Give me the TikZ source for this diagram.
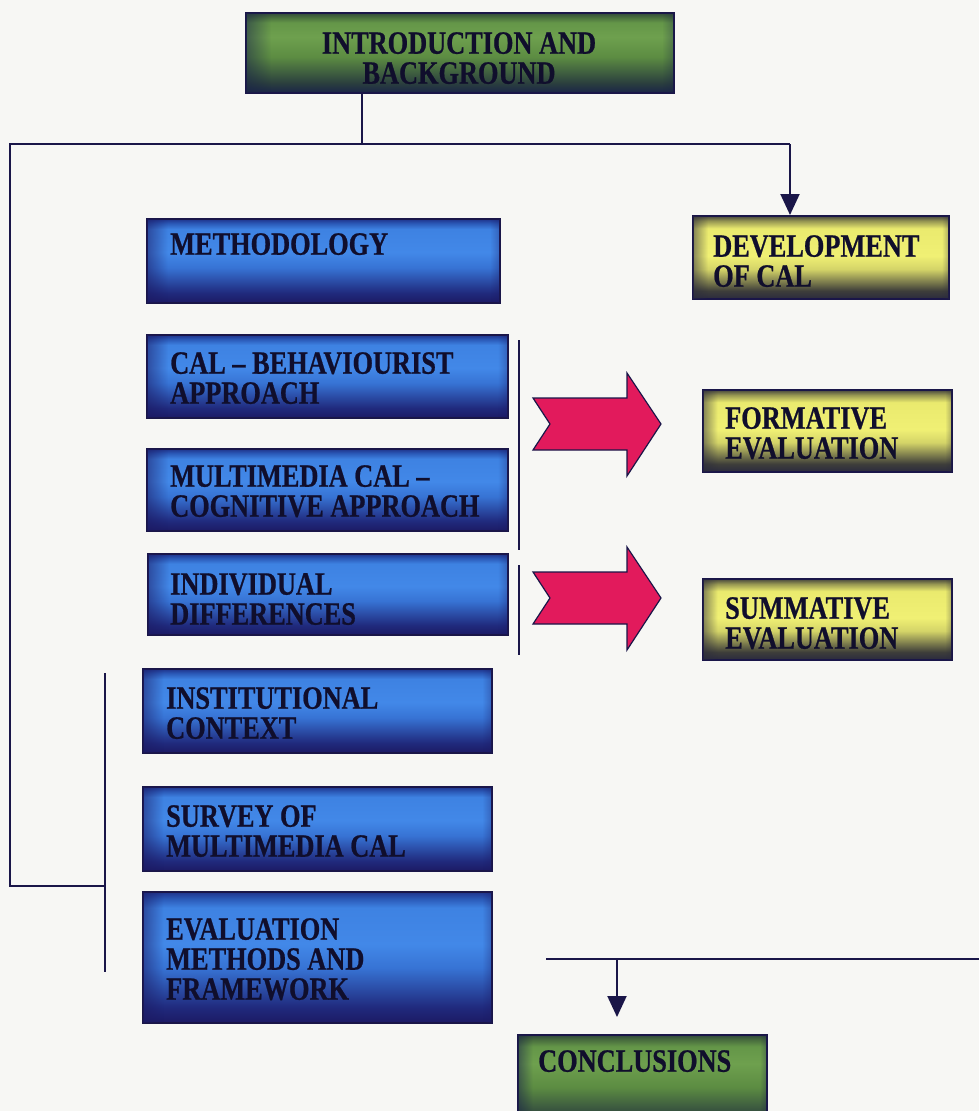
\documentclass[tikz,border=0pt]{standalone}
\usepackage{fontspec}
\setmainfont{Liberation Serif}[FakeStretch=0.81, BoldFeatures={FakeBold=0.7}]
\usetikzlibrary{arrows.meta,fadings,calc}

\definecolor{paper}{RGB}{247,247,244}
\definecolor{ink}{RGB}{26,22,72}
\definecolor{txt}{RGB}{16,14,44}
\definecolor{pink}{RGB}{226,26,92}
% blue boxes
\definecolor{bA}{RGB}{28,26,100}
\definecolor{bB}{RGB}{32,42,125}
\definecolor{bC}{RGB}{55,115,212}
\definecolor{bD}{RGB}{66,136,232}
\definecolor{bE}{RGB}{62,130,226}
\definecolor{bF}{RGB}{42,88,182}
\definecolor{bG}{RGB}{32,52,140}
% yellow boxes
\definecolor{yA}{RGB}{42,42,62}
\definecolor{yB}{RGB}{62,62,58}
\definecolor{yC}{RGB}{212,212,104}
\definecolor{yD}{RGB}{240,240,116}
\definecolor{yE}{RGB}{234,234,110}
\definecolor{yF}{RGB}{150,150,82}
\definecolor{yG}{RGB}{72,72,62}
% green boxes
\definecolor{gA}{RGB}{26,36,72}
\definecolor{gB}{RGB}{42,62,62}
\definecolor{gC}{RGB}{92,140,66}
\definecolor{gD}{RGB}{110,160,78}
\definecolor{gE}{RGB}{100,150,72}
\definecolor{gF}{RGB}{68,102,60}
\definecolor{gG}{RGB}{50,74,60}

% TikZ maps the band 25bp..75bp of a shading onto the filled box
\pgfdeclareverticalshading{blueshade}{100bp}{color(0bp)=(bA); color(25bp)=(bA); color(31bp)=(bB); color(46bp)=(bC); color(55bp)=(bD); color(69bp)=(bE); color(72.5bp)=(bF); color(75bp)=(bG); color(100bp)=(bG)}
\pgfdeclareverticalshading{yellowshade}{100bp}{color(0bp)=(yA); color(25bp)=(yA); color(30bp)=(yB); color(43bp)=(yC); color(51bp)=(yD); color(67.5bp)=(yE); color(72bp)=(yF); color(75bp)=(yG); color(100bp)=(yG)}
\pgfdeclareverticalshading{greenshade}{100bp}{color(0bp)=(gA); color(25bp)=(gA); color(31bp)=(gB); color(47.5bp)=(gC); color(60bp)=(gD); color(69bp)=(gE); color(73bp)=(gF); color(75bp)=(gG); color(100bp)=(gG)}

% darker bands along the left and right edges of a box
\begin{tikzfadingfrompicture}[name=sideshade]
  \fill[transparent!100] (-50bp,-50bp) rectangle (50bp,50bp);
  \shade[left color=transparent!45, right color=transparent!100] (-25bp,-50bp) rectangle (-22bp,50bp);
  \shade[left color=transparent!100, right color=transparent!65] (23.5bp,-50bp) rectangle (25bp,50bp);
\end{tikzfadingfrompicture}

\tikzset{
  panel/.style={rectangle, draw=ink, line width=2pt, inner sep=0pt, anchor=north west},
  bluebox/.style={panel, shading=blueshade},
  yellowbox/.style={panel, shading=yellowshade},
  greenbox/.style={panel, shading=greenshade},
  lbl/.style={inner sep=0pt, text=txt, font=\bfseries\fontsize{32.5}{30}\selectfont, align=left, anchor=north west},
  conn/.style={draw=ink, line width=2pt},
  tip/.style={-{Triangle[width=19pt,length=21pt]}},
  pinkarrow/.style={fill=pink, draw=ink, line width=1.2pt, line join=miter}
}

% a notched block arrow pointing right, given its tip
\newcommand\pinkarrowat[1]{%
  \filldraw[pinkarrow] (#1) ++(-128,-26) -- ++(94,0) -- ++(0,-25) -- ++(34,51)
    -- ++(-34,52) -- ++(0,-26) -- ++(-94,0) -- ++(17,-26) -- cycle;}

% edge bands over a box
\newcommand\sidebands[2]{%
  \fill[#2, path fading=sideshade] ([shift={(1,1)}]#1.north west) rectangle ([shift={(-1,-1)}]#1.south east);}

\begin{document}
\begin{tikzpicture}[x=1pt, y=-1pt]
\useasboundingbox (0,0) rectangle (979,1111);
\clip (0,0) rectangle (979,1111);
\fill[paper] (0,0) rectangle (979,1111);

% title box
\node[greenbox, minimum width=428pt, minimum height=80pt] (intro) at (245,12) {};
\sidebands{intro}{gA}
\node[lbl, align=center, anchor=north] (introT) at (459,32) {INTRODUCTION AND\\BACKGROUND};

% blue column
\node[bluebox, minimum width=353pt, minimum height=84pt] (meth) at (146,218) {};
\node[bluebox, minimum width=361pt, minimum height=83pt] (beh)  at (146,334) {};
\node[bluebox, minimum width=361pt, minimum height=82pt] (mm)   at (146,448) {};
\node[bluebox, minimum width=360pt, minimum height=81pt] (ind)  at (147,553) {};
\node[bluebox, minimum width=349pt, minimum height=84pt] (inst) at (142,668) {};
\node[bluebox, minimum width=349pt, minimum height=84pt] (surv) at (142,786) {};
\node[bluebox, minimum width=349pt, minimum height=131pt] (eval) at (142,891) {};
\foreach \b in {meth,beh,mm,ind,inst,surv,eval} {\sidebands{\b}{bA}}

\node[lbl] (methT) at (170,233) {METHODOLOGY};
\node[lbl] (behT)  at (170,352) {CAL -- BEHAVIOURIST\\APPROACH};
\node[lbl] (mmT)   at (170,465) {MULTIMEDIA CAL --\\COGNITIVE APPROACH};
\node[lbl] (indT)  at (170,573) {INDIVIDUAL\\DIFFERENCES};
\node[lbl] (instT) at (166,687) {INSTITUTIONAL\\CONTEXT};
\node[lbl] (survT) at (166,805) {SURVEY OF\\MULTIMEDIA CAL};
\node[lbl] (evalT) at (166,918) {EVALUATION\\METHODS AND\\FRAMEWORK};

% yellow column
\node[yellowbox, minimum width=256pt, minimum height=83pt] (dev)  at (692,215) {};
\node[yellowbox, minimum width=249pt, minimum height=82pt] (form) at (702,389) {};
\node[yellowbox, minimum width=249pt, minimum height=81pt] (summ) at (702,578) {};
\foreach \b in {dev,form,summ} {\sidebands{\b}{yA}}

\node[lbl] (devT)  at (713,235) {DEVELOPMENT\\OF CAL};
\node[lbl] (formT) at (725,407) {FORMATIVE\\EVALUATION};
\node[lbl] (summT) at (725,597) {SUMMATIVE\\EVALUATION};

% closing box
\node[greenbox, minimum width=249pt, minimum height=95pt] (concl) at (517,1034) {};
\sidebands{concl}{gA}
\node[lbl] (conclT) at (538,1050) {CONCLUSIONS};

% connector points
\coordinate (ibase) at ([xshift=117pt]intro.south west);
\coordinate (tl) at (10,144);
\coordinate (tr) at (790,144);
\coordinate (bl) at (10,886);
\coordinate (brTop) at (105,673);
\coordinate (brBot) at (105,972);
\coordinate (sepA1) at (519,340);
\coordinate (sepA2) at (519,550);
\coordinate (sepB1) at (519,565);
\coordinate (sepB2) at (519,655);
\coordinate (lowL) at (546,959);
\coordinate (lowR) at (979,959);
\coordinate (lowDrop) at (617,959);

% connectors
\draw[conn] (ibase) -- (ibase |- tl);
\draw[conn] (tr) -- (tl) -- (bl) -- (bl -| brTop);
\draw[conn, tip] (tr) -- (tr |- dev.north);
\draw[conn] (brTop) -- (brBot);
\draw[conn] (sepA1) -- (sepA2);
\draw[conn] (sepB1) -- (sepB2);
\draw[conn] (lowL) -- (lowR);
\draw[conn, tip, shorten >=17pt] (lowDrop) -- (lowDrop |- concl.north);

% block arrows
\coordinate (pa) at (661,424);
\coordinate (pb) at (661,598);
\pinkarrowat{pa}
\pinkarrowat{pb}
\end{tikzpicture}
\end{document}
